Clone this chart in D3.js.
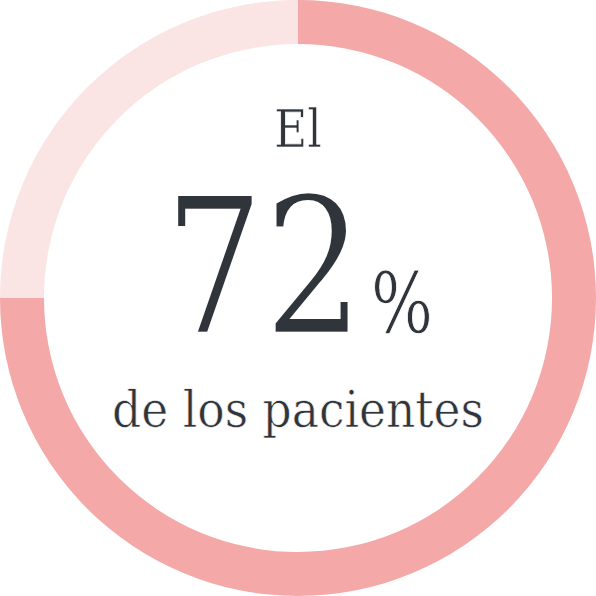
<!DOCTYPE html>
<html>
<head>
<meta charset="utf-8">
<script src="https://cdn.jsdelivr.net/npm/d3@7"></script>
<style>
  html, body { margin: 0; padding: 0; background: #fff; }
  svg { display: block; }
  text { font-family: "Roboto Slab", "DejaVu Serif", serif; fill: #30353b; }
</style>
</head>
<body>
<div id="chart"></div>
<script>
// valeurs
const segments = ['pacientes', 'resto'];
const segmentValues = [75, 25];
const segmentColors = ['#f4a8a8', '#fbe4e4'];
const headline = 'El';
const percentValue = '72';
const percentSign = '%';
const footline = 'de los pacientes';

const width = 596;
const height = 596;
const outerR = 298;
const innerR = 254;

const svg = d3.select('#chart').append('svg')
  .attr('width', width)
  .attr('height', height);

const g = svg.append('g').attr('transform', `translate(${width / 2},${height / 2})`);

const pie = d3.pie().sort(null).value(d => d.value);
const arc = d3.arc().innerRadius(innerR).outerRadius(outerR);

const data = segments.map((s, i) => ({ name: s, value: segmentValues[i], color: segmentColors[i] }));

g.selectAll('path')
  .data(pie(data))
  .join('path')
  .attr('d', arc)
  .attr('fill', d => d.data.color);

// --- textes centraux ---
// la police est plus large que l'originale : on la resserre avec un scale horizontal
// mesuré sur la largeur voulue
const txt = svg.append('g');

function fitText(str, size, x, y, anchor, w) {
  const t = txt.append('text')
    .attr('text-anchor', anchor)
    .attr('font-size', size)
    .attr('stroke', '#fff')
    .attr('stroke-width', size * 0.012)
    .text(str);
  const natural = t.node().getComputedTextLength();
  const sx = w ? w / natural : 1;
  t.attr('transform', `translate(${x},${y}) scale(${sx},1)`);
  return t;
}

fitText(headline, 52, 298, 147, 'middle', 48);
fitText(percentValue, 190, 264, 333, 'middle', 200);
fitText(percentSign, 84, 371, 333, 'start', 62);
fitText(footline, 50, 298, 427, 'middle', 372);
</script>
</body>
</html>
